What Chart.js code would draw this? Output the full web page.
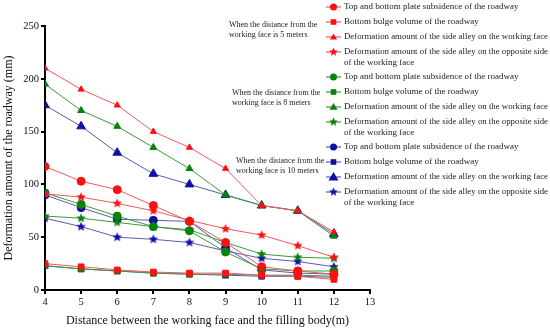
<!DOCTYPE html>
<html>
<head>
<meta charset="utf-8">
<script src="https://cdn.jsdelivr.net/npm/chart.js@4/dist/chart.umd.min.js"></script>
<style>
  html, body { margin: 0; padding: 0; background: #fff; }
  #wrap { width: 550px; height: 331px; }
</style>
</head>
<body>
<div id="wrap"><canvas id="chart" width="550" height="331"></canvas></div>
<script>
// x positions (distance between working face and filling body, m)
const xValues = [4, 5, 6, 7, 8, 9, 10, 11, 12];

// 5 m from the working face (red)
const red5Top = [117, 103, 95, 80, 65, 45, 22, 18, 15];
const red5Bottom = [25, 22, 19, 17, 16, 16, 14, 13, 10];
const red5Work = [210, 190, 175, 150, 135, 115, 80, 75, 55];
const red5Opp = [91, 88, 82, 75, 66, 58, 52, 42, 31];

// 8 m from the working face (green)
const green8Top = [92, 81, 70, 60, 56, 36, 20, 18, 18];
const green8Bottom = [23, 20, 18, 16, 15, 15, 14, 14, 13];
const green8Work = [195, 170, 155, 135, 115, 90, 80, 75, 51];
const green8Opp = [70, 68, 64, 60, 57, 45, 34, 31, 30];

// 10 m from the working face (blue)
const blue10Top = [90, 78, 67, 66, 65, 40, 19, 16, 15];
const blue10Bottom = [23, 20, 18, 16, 15, 14, 13, 13, 12];
const blue10Work = [175, 155, 130, 110, 100, 90, 80, 75, 53];
const blue10Opp = [68, 60, 50, 48, 45, 37, 30, 27, 22];

const yTicks = [0, 50, 100, 150, 200, 250];
const xTicks = [4, 5, 6, 7, 8, 9, 10, 11, 12, 13];

const legendLabels = [
  ["Top and bottom plate subsidence of the roadway"],
  ["Bottom bulge volume of the roadway"],
  ["Deformation amount of the side alley on the working face"],
  ["Deformation amount of the side alley on the opposite side", "of the working face"],
];
const groupNotes = [
  ["When the distance from the", "working face is 5 meters"],
  ["When the distance from the", "working face is 8 meters"],
  ["When the distance from the", "working face is 10 meters"],
];

// colours per group: line, marker
const groupColors = [
  { line: "#ee5a5a", mark: "#ff1010" },
  { line: "#3c9a3c", mark: "#0a820a" },
  { line: "#5a5ab4", mark: "#1010a8" },
];

// filled 5 point star as an image, used as pointStyle
function starImage(color, r) {
  const c = document.createElement("canvas");
  c.width = c.height = Math.ceil(r * 2 + 2);
  const g = c.getContext("2d");
  const cx = c.width / 2, cy = c.height / 2;
  g.beginPath();
  for (let i = 0; i < 10; i++) {
    const rad = i % 2 === 0 ? r : r * 0.45;
    const a = -Math.PI / 2 + (i * Math.PI) / 5;
    g.lineTo(cx + rad * Math.cos(a), cy + rad * Math.sin(a));
  }
  g.closePath();
  g.fillStyle = color;
  g.fill();
  return c;
}

const toPoints = (vals) => xValues.map((x, i) => ({ x: x, y: vals[i] }));

const groups = [
  [red5Top, red5Bottom, red5Work, red5Opp],
  [green8Top, green8Bottom, green8Work, green8Opp],
  [blue10Top, blue10Bottom, blue10Work, blue10Opp],
];
const styles = ["circle", "rect", "triangle", "star"];
const triSizes = [3.5, 4, 5];

const datasets = [];
groups.forEach((series, gi) => {
  const col = groupColors[gi];
  series.forEach((vals, si) => {
    let style = styles[si];
    let radius = 4;
    if (si === 2) radius = triSizes[gi];
    if (style === "star") style = starImage(col.mark, 5);
    datasets.push({
      label: legendLabels[si].join(" "),
      data: toPoints(vals),
      borderColor: col.line,
      borderWidth: 1,
      backgroundColor: col.mark,
      pointBackgroundColor: col.mark,
      pointBorderColor: col.mark,
      pointBorderWidth: 1,
      pointStyle: style,
      pointRadius: radius,
      tension: 0,
      fill: false,
    });
  });
});

// draw a marker in the legend
function drawMarker(ctx, style, x, y, r, color) {
  ctx.fillStyle = color;
  ctx.beginPath();
  if (style === "circle") {
    ctx.arc(x, y, r, 0, Math.PI * 2);
    ctx.fill();
  } else if (style === "rect") {
    ctx.fillRect(x - r * 0.8, y - r * 0.8, r * 1.6, r * 1.6);
  } else if (style === "triangle") {
    ctx.moveTo(x, y - r);
    ctx.lineTo(x + r, y + r * 0.7);
    ctx.lineTo(x - r, y + r * 0.7);
    ctx.closePath();
    ctx.fill();
  } else {
    const img = starImage(color, r);
    ctx.drawImage(img, x - img.width / 2, y - img.height / 2);
  }
}

const legendPlugin = {
  id: "sideLegend",
  afterDraw(chart) {
    const ctx = chart.ctx;
    ctx.save();
    ctx.textBaseline = "middle";
    ctx.textAlign = "left";
    let y = 7;
    groups.forEach((series, gi) => {
      const col = groupColors[gi];
      legendLabels.forEach((lines, si) => {
        ctx.strokeStyle = col.line;
        ctx.lineWidth = 1.2;
        ctx.beginPath();
        ctx.moveTo(326, y);
        ctx.lineTo(341, y);
        ctx.stroke();
        const r = si === 2 ? triSizes[gi] : si === 3 ? 4.5 : 3.5;
        drawMarker(ctx, styles[si], 333.5, y, r, col.mark);
        ctx.fillStyle = "#222";
        ctx.font = "9px 'Liberation Serif', serif";
        lines.forEach((t, li) => ctx.fillText(t, 344, y + li * 10.5, 204));
        y += lines.length > 1 ? 25 : 15;
      });
    });
    // group notes
    const notePos = [[229, 25], [232, 93], [236, 161]];
    ctx.font = "8px 'Liberation Serif', serif";
    ctx.fillStyle = "#222";
    groupNotes.forEach((lines, i) => {
      lines.forEach((t, li) => ctx.fillText(t, notePos[i][0], notePos[i][1] + li * 9.5));
    });
    ctx.restore();
  },
};

new Chart(document.getElementById("chart"), {
  type: "line",
  data: { datasets: datasets },
  options: {
    responsive: false,
    animation: false,
    layout: { padding: { top: 26, right: 180, left: 0, bottom: 0 } },
    plugins: {
      legend: { display: false },
      tooltip: { enabled: false },
    },
    scales: {
      x: {
        type: "linear",
        min: 4,
        max: 13,
        afterBuildTicks: (scale) => {
          scale.ticks = xTicks.map((v) => ({ value: v }));
        },
        afterFit: (scale) => {
          scale.height = 41;
        },
        border: { color: "#000", width: 2 },
        grid: { drawOnChartArea: false, drawTicks: true, tickLength: 4, color: "#000", lineWidth: 2 },
        ticks: { color: "#111", font: { family: "'Liberation Serif', serif", size: 10.5 }, padding: 2, maxRotation: 0 },
        title: {
          display: true,
          text: "Distance between the working face and the filling body(m)",
          color: "#111",
          font: { family: "'Liberation Serif', serif", size: 12 },
          padding: { top: 2, bottom: 3 },
        },
      },
      y: {
        min: 0,
        max: 250,
        afterBuildTicks: (scale) => {
          scale.ticks = yTicks.map((v) => ({ value: v }));
        },
        afterFit: (scale) => {
          scale.width = 45;
        },
        border: { color: "#000", width: 2 },
        grid: { drawOnChartArea: false, drawTicks: true, tickLength: 4, color: "#000", lineWidth: 2 },
        ticks: { color: "#111", font: { family: "'Liberation Serif', serif", size: 10.5 }, padding: 2 },
        title: {
          display: true,
          text: "Deformation amount of the roadway (mm)",
          color: "#111",
          font: { family: "'Liberation Serif', serif", size: 12 },
          padding: { top: 2, bottom: 2 },
        },
      },
    },
  },
  plugins: [legendPlugin],
});
</script>
</body>
</html>
